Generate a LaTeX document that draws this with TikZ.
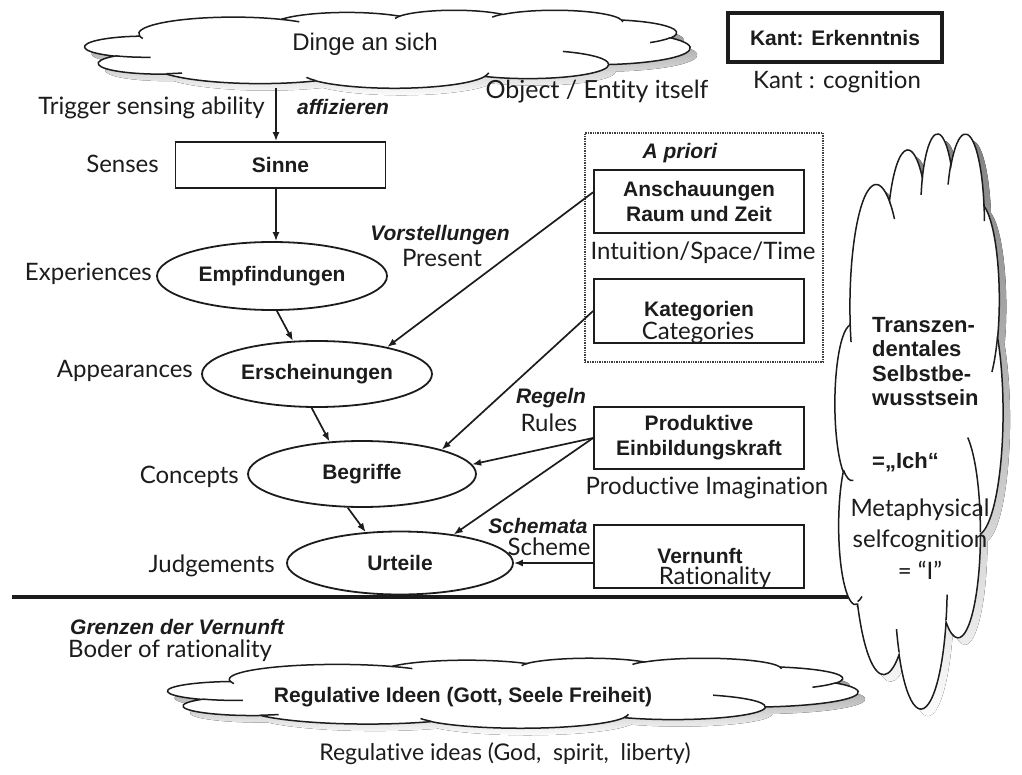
\documentclass[tikz,border=0pt]{standalone}
\usepackage{fontspec}
\setmainfont{Liberation Sans}
\newfontfamily\engfont[Ligatures=NoCommon]{Lato}
\usetikzlibrary{arrows.meta,shapes.geometric}

\definecolor{ink}{HTML}{1C1C1C}
\definecolor{shade}{HTML}{858585}

% one elliptic arc of the cloud; angles are the visible angles on the ellipse
\newcommand\carc[4]{arc[x radius=#1, y radius=#2,
  start angle={vis(#1,#2,#3)}, end angle={vis(#1,#2,#3+#4)}]}

% cloud outline in a 432 x 432 frame
\newcommand\cloudrim{(39.00,143.70)
  \carc{67.53}{91.90}{-190.487}{123.781}
  \carc{53.33}{72.67}{-144.102}{89.945}
  \carc{43.65}{59.45}{-145.808}{99.723}
  \carc{48.57}{65.95}{-130.986}{117.242}
  \carc{53.33}{72.73}{-78.709}{109.027}
  \carc{67.75}{92.20}{-46.267}{130.269}
  \carc{57.85}{78.67}{0.625}{114.033}
  \carc{67.52}{92.15}{22.452}{115.173}
  \carc{77.20}{105.43}{66.243}{75.711}
  \carc{43.60}{59.18}{-274.942}{146.736}
  \carc{43.45}{59.45}{-246.829}{152.519} -- cycle}

% the small inner folds of the cloud
\newcommand\cloudfolds{
  (46.93,261.77) \carc{43.45}{59.45}{86.742}{26.430}
  (69.28,348.99) \carc{43.60}{59.18}{73.611}{11.447}
  (164.78,390.90) \carc{67.52}{92.15}{137.624}{14.081}
  (288.27,347.51) \carc{67.52}{92.15}{6.453}{15.998}
  (341.29,229.54) \carc{57.85}{78.67}{-70.292}{70.917}
  (417.98,153.54) \carc{53.33}{72.73}{30.318}{27.752}
  (383.24,54.26) \carc{48.57}{65.95}{-13.744}{14.854}
  (290.78,39.52) \carc{48.57}{65.95}{-149.181}{18.196}
  (221.41,47.20) \carc{43.65}{59.45}{-163.494}{17.685}
  (140.00,51.92) \carc{67.53}{91.90}{-66.707}{12.319}
  (41.27,157.89) \carc{67.53}{91.90}{157.654}{11.858}}

% cloud with drop shadow: left, top, width, height
\newcommand\kantcloud[4]{%
  \begin{scope}[shift={(#1+7,#2+7)}, xscale=#3/432, yscale=#4/432]
    \fill[shade] \cloudrim;
  \end{scope}
  \begin{scope}[shift={(#1,#2)}, xscale=#3/432, yscale=#4/432]
    \filldraw[fill=white, draw=ink, line width=1.5pt] \cloudrim;
    \draw[ink, line width=1.5pt] \cloudfolds;
  \end{scope}}

\begin{document}
\begin{tikzpicture}[x=1pt, y=-1pt,
  declare function={vis(\pa,\pb,\pt)=\pt+(atan2(\pa*sin(\pt),\pb*cos(\pt))-\pt)
     -360*round((atan2(\pa*sin(\pt),\pb*cos(\pt))-\pt)/360);},
  de/.style={font=\fontsize{21}{25}\selectfont\bfseries, text=ink, align=center},
  dei/.style={font=\fontsize{21}{25}\selectfont\bfseries\itshape, text=ink, inner sep=0pt},
  en/.style={font=\engfont\fontsize{24}{28}\selectfont, text=ink, inner sep=0pt, align=center},
  box/.style={de, draw=ink, line width=1.8pt, fill=white, inner sep=0pt, minimum width=210pt},
  oval/.style={de, ellipse, draw=ink, line width=1.8pt, fill=white, inner sep=0pt},
  arr/.style={draw=ink, line width=1.7pt, -{Latex[length=9pt,width=7pt]}}]

\useasboundingbox (0,0) rectangle (1022,775);
\fill[white] (0,0) rectangle (1022,775);

% clouds
\kantcloud{85}{10}{605}{78}
\kantcloud{835}{132}{168}{575}
\kantcloud{168}{658}{690}{70}

% top
\node[text=ink, font=\fontsize{24}{28}\selectfont] (dinge) at (365,44) {Dinge an sich};
\node[de, draw=ink, line width=4pt, minimum width=214pt, minimum height=49pt, inner sep=0pt] (kant) at (835,37.5) {Kant: Erkenntnis};
\node[en] (kanten) at (837,82) {Kant : cognition};
\node[en, font=\engfont\fontsize{25}{30}\selectfont] (objen) at (597,92) {Object / Entity itself};
\coordinate (cloudfoot) at (276,88);
\node[en, anchor=east] (trig) at (265,108) {Trigger sensing ability};
\node[dei, anchor=west] (affiz) at (297,107) {affizieren};

% left column
\node[box, minimum height=46pt] (sinne) at (280.5,165) {Sinne};
\node[en, anchor=east] (senses) at (159,164) {Senses};
\node[oval, minimum width=230pt, minimum height=68pt] (empf) at (272,276) {Empfindungen};
\node[en, anchor=east] (exper) at (152,274) {Experiences};
\node[oval, minimum width=230pt, minimum height=66pt] (ersch) at (317,374) {Erscheinungen};
\node[en, anchor=east] (appear) at (193,371) {Appearances};
\node[oval, minimum width=228pt, minimum height=66pt] (begr) at (362,474) {Begriffe};
\node[en, anchor=east] (concepts) at (239,477) {Concepts};
\node[oval, minimum width=226pt, minimum height=63pt] (urt) at (400,563) {Urteile};
\node[en, anchor=east] (judge) at (275,566) {Judgements};

% a priori group
\node[draw=ink!85, densely dotted, line width=1.4pt, minimum width=238pt, minimum height=229pt, inner sep=0pt] (apriori) at (704,247.5) {};
\node[dei] (aprioritxt) at (680,153) {A priori};
\node[box, minimum height=63pt] (ansch) at (699,201.5) {Anschauungen\\Raum und Zeit};
\node[en] (intuit) at (703,253) {Intuition/Space/Time};
\node[box, minimum height=64pt] (kat) at (699,311) {};
\node[de] (kattxt) at (699,311) {Kategorien};
\node[en] (categ) at (698,333) {Categories};

% lower boxes
\node[box, minimum height=62pt] (prod) at (699,438) {Produktive\\Einbildungskraft};
\node[en] (prodimg) at (707,488) {Productive Imagination};
\node[box, minimum height=63pt] (vern) at (699,556.5) {};
\node[de] (verntxt) at (700,556) {Vernunft};
\node[en] (ration) at (715,578) {Rationality};

% connector labels
\node[dei] (vorst) at (440,235) {Vorstellungen};
\node[en] (present) at (442,258) {Present};
\node[dei] (regeln) at (551,398) {Regeln};
\node[en] (rules) at (549,423) {Rules};
\node[dei] (schemata) at (538,526) {Schemata};
\node[en] (scheme) at (549,547) {Scheme};

% connectors
\draw[arr] (cloudfoot) -- (cloudfoot |- sinne.north);
\draw[arr] (sinne.south -| cloudfoot) -- (empf.north -| cloudfoot);
\draw[arr] (empf.-82) -- (ersch.126);
\draw[arr] (ersch.-99) -- (begr.135);
\draw[arr] (begr.-113) -- (urt.138);
\draw[arr] (ansch.175) -- (ersch.21);
\draw[arr] (kat.west) -- (begr.17);
\draw[arr] (prod.west) -- (begr.5);
\draw[arr] (prod.west) -- (urt.28);
\draw[arr] (vern.west |- urt.east) -- (urt.east);

% limit of reason
\coordinate (limL) at (12,597);
\coordinate (limR) at (848,597);
\draw[ink, line width=3.5pt] (limL) -- (limR);
\node[dei, anchor=west] (grenzen) at (70,627) {Grenzen der Vernunft};
\node[en, anchor=west] (boder) at (68,651) {Boder of rationality};

% right cloud texts
\node[de, font=\fontsize{22}{24.5}\selectfont\bfseries, align=left, anchor=north west, inner sep=0pt] (transz) at (872,317) {Transzen-\\dentales\\Selbstbe-\\wusstsein};
\node[de, font=\fontsize{22}{25}\selectfont\bfseries, anchor=west, inner sep=0pt] (ich) at (872,462) {=„Ich“};
\node[en, font=\engfont\fontsize{24}{31.5}\selectfont] (meta) at (920,539) {Metaphysical\\selfcognition\\= “I”};

% bottom
\node[de] (regid) at (463,697) {Regulative Ideen (Gott, Seele Freiheit)};
\node[en, font=\engfont\fontsize{23}{27}\selectfont] (regen) at (505,754) {Regulative ideas (God,\ \ spirit,\ \ liberty)};
\end{tikzpicture}
\end{document}
